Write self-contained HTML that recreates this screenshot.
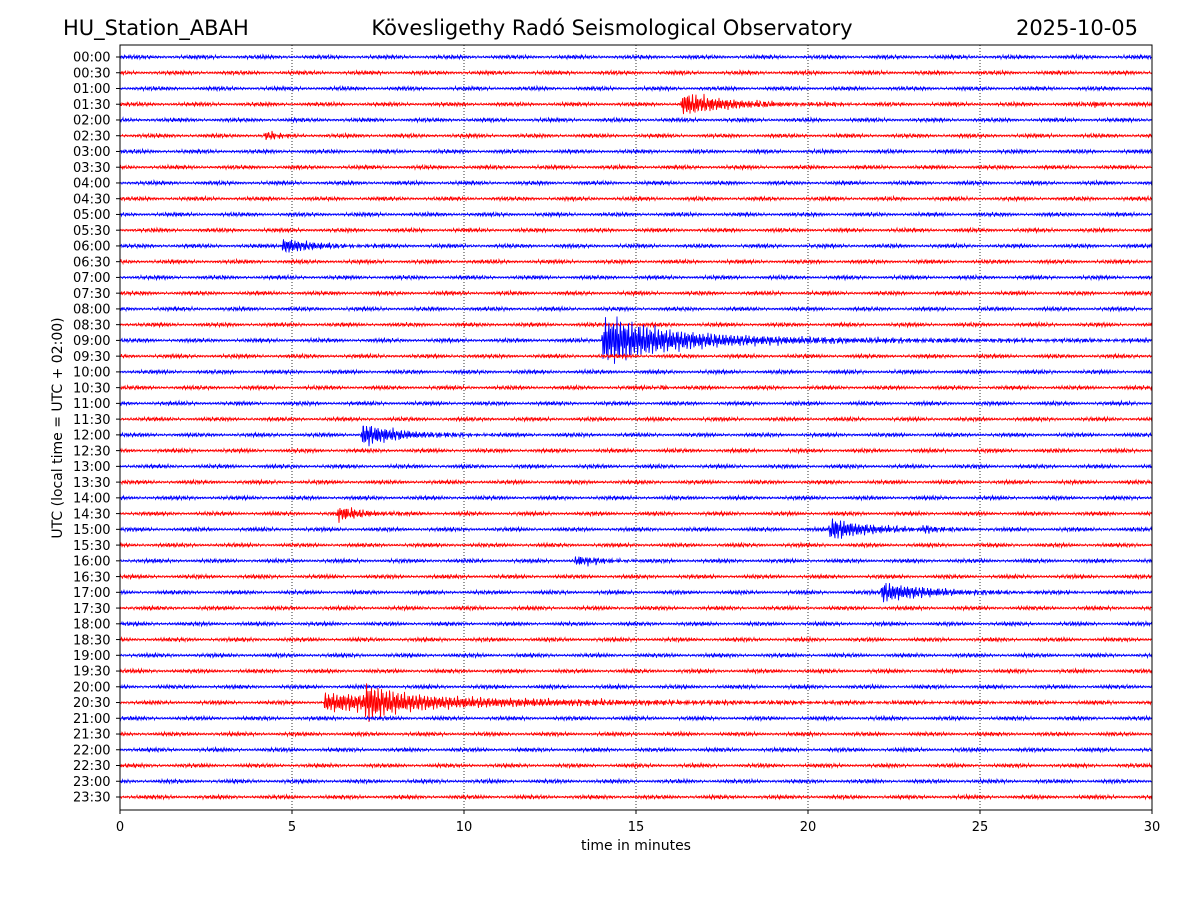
<!DOCTYPE html>
<html><head><meta charset="utf-8">
<style>
html,body{margin:0;padding:0;background:#fff;}
svg text{font-family:"DejaVu Sans","Liberation Sans",sans-serif;}
</style></head>
<body>
<svg id="chart" width="1200" height="900" viewBox="0 0 1200 900" xmlns="http://www.w3.org/2000/svg">
<rect width="1200" height="900" fill="#fff"/>
<text x="63" y="35" font-size="21">HU_Station_ABAH</text>
<text x="612" y="35" font-size="21" text-anchor="middle">Kövesligethy Radó Seismological Observatory</text>
<text x="1138" y="35" font-size="21" text-anchor="end">2025-10-05</text>
<g id="grid"></g>
<g id="traces"></g>
<rect x="120" y="45" width="1032" height="765" fill="none" stroke="#000" stroke-width="1"/>
<g id="xticks"></g>
<g id="yticks"></g>
<text x="636" y="850" font-size="14" text-anchor="middle">time in minutes</text>
<text transform="translate(62,428) rotate(-90)" font-size="14" text-anchor="middle">UTC (local time = UTC + 02:00)</text>
</svg>
<script>
const rowLabels = [];
for (let h = 0; h < 24; h++) { const hh = String(h).padStart(2,'0'); rowLabels.push(hh+':00', hh+':30'); }
const xTicks = [0,5,10,15,20,25,30];
const noiseAmp = 1.8;
// events: row index, start minute, amplitude (trace units), decay minutes
const evRow   = [3,   3,    5,   12,  18,  18,  21,   24,  29,  30,   30,   32,   34,   41,  41];
const evStart = [16.3,28.2, 4.2, 4.7, 14.0,14.3,15.7, 7.0, 6.3, 20.6, 23.3, 13.2, 22.1, 5.9, 7.1];
const evAmp   = [13,  4,    6,   9,   26,  5,   8,    13,  9,   13,   5,    6,    11,   10,  16];
const evDur   = [1.5, 0.5,  0.4, 1.0, 1.8, 8,   0.1,  1.2, 0.8, 1.2,  0.4,  0.8,  1.6,  6,   0.9];

const X0=120, X1=1152, Y0=57, DY=(797-57)/47;
const xs = m => X0 + (X1-X0)*m/30;
const ys = r => Y0 + DY*r;
const NS='http://www.w3.org/2000/svg';
const grid=document.getElementById('grid'), traces=document.getElementById('traces');
const xt=document.getElementById('xticks'), yt=document.getElementById('yticks');

xTicks.forEach(t=>{
  if(t>0&&t<30){const l=document.createElementNS(NS,'line');
  
  
  l.setAttribute('x1',xs(t));l.setAttribute('x2',xs(t));l.setAttribute('y1',45);l.setAttribute('y2',810);
  l.setAttribute('stroke','#000');l.setAttribute('stroke-width','0.8');l.setAttribute('stroke-dasharray','1,2');grid.appendChild(l);}
  const tk=document.createElementNS(NS,'line');
  
  
  tk.setAttribute('x1',xs(t));tk.setAttribute('x2',xs(t));tk.setAttribute('y1',810);tk.setAttribute('y2',814);tk.setAttribute('stroke','#000');xt.appendChild(tk);
  const tx=document.createElementNS(NS,'text');
  
  
  tx.setAttribute('x',xs(t));tx.setAttribute('y',831);tx.setAttribute('font-size','13');tx.setAttribute('text-anchor','middle');tx.textContent=t;xt.appendChild(tx);
});

rowLabels.forEach((lab,r)=>{
  const y=ys(r);
  const tk=document.createElementNS(NS,'line');
  
  
  tk.setAttribute('x1',116);tk.setAttribute('x2',120);tk.setAttribute('y1',y);tk.setAttribute('y2',y);tk.setAttribute('stroke','#000');yt.appendChild(tk);
  const tx=document.createElementNS(NS,'text');
  
  
  tx.setAttribute('x',110.5);tx.setAttribute('y',y+4.7);tx.setAttribute('font-size','13');tx.setAttribute('text-anchor','end');tx.textContent=lab;yt.appendChild(tx);

  let pts=[];
  const N=2064;
  for(let i=0;i<=N;i++){
    const m=30*i/N;
    let v=noiseAmp*(Math.sin(i*2.31+r*1.7)*0.6+Math.sin(i*5.17+r*0.3)*0.4+Math.sin(i*0.73+r)*0.3)*(0.8+0.3*Math.sin(i*0.05+r*2.1));
    for(let k=0;k<evRow.length;k++){
      if(evRow[k]!==r)continue;
      const dt=m-evStart[k];
      if(dt<0||dt>evDur[k]*6)continue;
      const env=evAmp[k]*Math.min(1,dt/0.05)*Math.exp(-dt/evDur[k]);
      v+=env*(Math.sin(i*1.9+k)*0.7+Math.sin(i*0.83)*0.3);
    }
    pts.push(xs(m).toFixed(1)+','+(y-v).toFixed(1));
  }
  const pl=document.createElementNS(NS,'polyline');
  
  
  pl.setAttribute('points',pts.join(' '));
  pl.setAttribute('fill','none');
  pl.setAttribute('stroke',r%2===0?'#0000ff':'#ff0000');
  pl.setAttribute('stroke-width','0.9');
  traces.appendChild(pl);
});
</script>
</body></html>
